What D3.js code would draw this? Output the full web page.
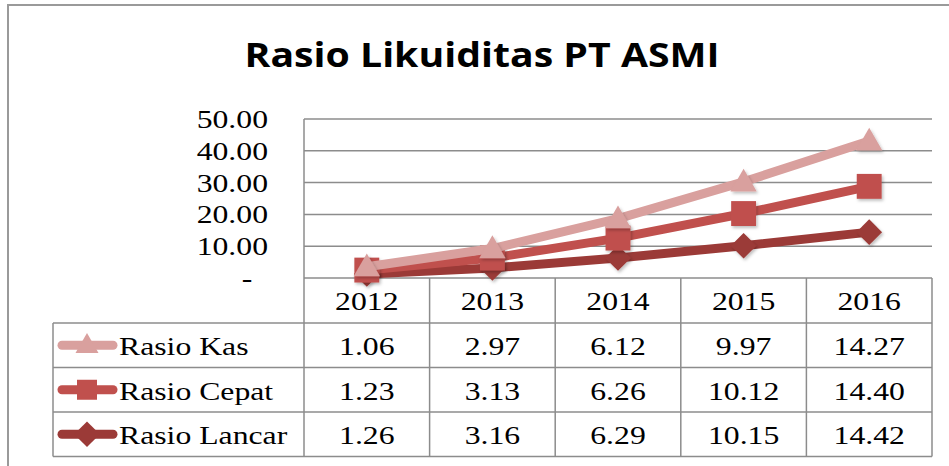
<!DOCTYPE html>
<html>
<head>
<meta charset="utf-8">
<script src="https://cdn.jsdelivr.net/npm/d3@7"></script>
<style>
	body { margin: 0; background: #fff; }
	svg { display: block; }
</style>
</head>
<body>
<div id="diagram"></div>
<script>
const years = ["2012", "2013", "2014", "2015", "2016"];
const seriesNames = ["Rasio Kas", "Rasio Cepat", "Rasio Lancar"];
const rasioKas = [1.06, 2.97, 6.12, 9.97, 14.27];
const rasioCepat = [1.23, 3.13, 6.26, 10.12, 14.40];
const rasioLancar = [1.26, 3.16, 6.29, 10.15, 14.42];
const yTicks = [0, 10, 20, 30, 40, 50];

const colors = {
	"Rasio Kas": "#d9a09e",
	"Rasio Cepat": "#c0504d",
	"Rasio Lancar": "#9b3a37"
};

// diamond = square turned 45 degrees
const diamond = {
	draw(context, size) {
		const r = Math.sqrt(size / 2);
		context.moveTo(0, -r);
		context.lineTo(r, 0);
		context.lineTo(0, r);
		context.lineTo(-r, 0);
		context.closePath();
	}
};
const shapes = {
	"Rasio Kas": d3.symbolTriangle,
	"Rasio Cepat": d3.symbolSquare,
	"Rasio Lancar": diamond
};

const width = 949;
const height = 466;
const gridColor = "#8c8c8c";
const serif = "'Liberation Serif', 'Times New Roman', serif";
const stretch = 1.22; // the picture text is a bit wide

// one row per year, used for stacking (stacked line chart)
const rows = years.map((y, i) => ({
	year: y,
	"Rasio Kas": rasioKas[i],
	"Rasio Cepat": rasioCepat[i],
	"Rasio Lancar": rasioLancar[i]
}));
const valuesBySeries = {
	"Rasio Kas": rasioKas,
	"Rasio Cepat": rasioCepat,
	"Rasio Lancar": rasioLancar
};

const stacked = d3.stack()
	.keys(["Rasio Lancar", "Rasio Cepat", "Rasio Kas"])(rows);

const plotLeft = 304, plotRight = 932, plotTop = 119, plotBottom = 278;
const tableLeft = 53;
const headerBottom = 323;
const rowH = 44.5;

const x = d3.scaleBand()
	.domain(years)
	.range([plotLeft, plotRight]);

const y = d3.scaleLinear()
	.domain([0, 50])
	.range([plotBottom, plotTop]);

const svg = d3.select("#diagram")
	.append("svg")
	.attr("width", width)
	.attr("height", height);

function serifText(sel, tx, ty) {
	return sel
		.attr("transform", (d, i) => `translate(${tx(d, i)},${ty(d, i)}) scale(${stretch},1)`)
		.attr("font-family", serif)
		.attr("font-size", "26px");
}

const defs = svg.append("defs");
defs.append("filter")
	.attr("id", "shadow")
	.attr("x", "-50%").attr("y", "-50%")
	.attr("width", "200%").attr("height", "200%")
	.append("feDropShadow")
	.attr("dx", 1.5).attr("dy", 2)
	.attr("stdDeviation", 1.5)
	.attr("flood-color", "#000")
	.attr("flood-opacity", 0.25);

// outer chart border
svg.append("rect")
	.attr("x", 8).attr("y", 5)
	.attr("width", 980).attr("height", 500)
	.attr("fill", "none")
	.attr("stroke", "#9a9a9a")
	.attr("stroke-width", 2);

// title
svg.append("text")
	.attr("x", 482)
	.attr("y", 67)
	.attr("text-anchor", "middle")
	.attr("font-family", "'Open Sans', sans-serif")
	.attr("font-weight", "bold")
	.attr("font-size", "34px")
	.attr("textLength", 475)
	.attr("lengthAdjust", "spacingAndGlyphs")
	.text("Rasio Likuiditas PT ASMI");

// gridlines
svg.selectAll("line.grid")
	.data(yTicks.filter(d => d > 0))
	.enter()
	.append("line")
	.attr("class", "grid")
	.attr("x1", plotLeft).attr("x2", plotRight)
	.attr("y1", d => y(d)).attr("y2", d => y(d))
	.attr("stroke", gridColor)
	.attr("stroke-width", 1.5);

// y labels
svg.selectAll("text.ylab")
	.data(yTicks)
	.enter()
	.append("text")
	.attr("class", "ylab")
	.call(serifText, d => d === 0 ? 247 : 268, d => y(d) + 9)
	.attr("text-anchor", d => d === 0 ? "middle" : "end")
	.text(d => d === 0 ? "-" : d3.format(".2f")(d));

// table lines
const tableBottom = headerBottom + rowH * seriesNames.length;
const tbl = svg.append("g")
	.attr("stroke", gridColor)
	.attr("stroke-width", 1.5);

tbl.append("line")
	.attr("x1", plotLeft).attr("x2", plotRight)
	.attr("y1", plotBottom).attr("y2", plotBottom);
tbl.selectAll("line.hrow")
	.data(d3.range(seriesNames.length + 1))
	.enter()
	.append("line")
	.attr("x1", tableLeft).attr("x2", plotRight)
	.attr("y1", i => headerBottom + i * rowH)
	.attr("y2", i => headerBottom + i * rowH);
tbl.append("line")
	.attr("x1", plotLeft).attr("x2", plotLeft)
	.attr("y1", plotTop).attr("y2", tableBottom);
tbl.append("line")
	.attr("x1", tableLeft).attr("x2", tableLeft)
	.attr("y1", headerBottom).attr("y2", tableBottom);
tbl.selectAll("line.vcol")
	.data(years.slice(1).concat(["end"]))
	.enter()
	.append("line")
	.attr("x1", d => d === "end" ? plotRight : x(d))
	.attr("x2", d => d === "end" ? plotRight : x(d))
	.attr("y1", plotBottom).attr("y2", tableBottom);

// year header
svg.selectAll("text.year")
	.data(years)
	.enter()
	.append("text")
	.attr("class", "year")
	.call(serifText, d => x(d) + x.bandwidth() / 2, () => 310)
	.attr("text-anchor", "middle")
	.text(d => d);

// table rows
seriesNames.forEach(function(name, r) {
	const top = headerBottom + r * rowH;
	const cy = top + rowH / 2;
	const g = svg.append("g");

	g.append("line")
		.attr("x1", 62).attr("x2", 113)
		.attr("y1", cy).attr("y2", cy)
		.attr("stroke", colors[name])
		.attr("stroke-width", 9)
		.attr("stroke-linecap", "round");
	g.append("path")
		.attr("d", d3.symbol().type(shapes[name]).size(name === "Rasio Kas" ? 230 : (name === "Rasio Cepat" ? 400 : 330))())
		.attr("transform", `translate(87,${cy + (name === "Rasio Kas" ? 1 : 0)})`)
		.attr("fill", colors[name]);
	g.append("text")
		.call(serifText, () => 119, () => top + 32)
		.text(name);

	g.selectAll("text.val")
		.data(valuesBySeries[name])
		.enter()
		.append("text")
		.call(serifText, (d, i) => x(years[i]) + x.bandwidth() / 2, () => top + 32)
		.attr("text-anchor", "middle")
		.text(d => d3.format(".2f")(d));
});

// stacked lines
const cx = d => x(d.data.year) + x.bandwidth() / 2;
const line = d3.line()
	.x(cx)
	.y(d => y(d[1]));

const layers = svg.selectAll("g.layer")
	.data(stacked)
	.enter()
	.append("g")
	.attr("class", "layer");

layers.append("path")
	.attr("d", d => line(d))
	.attr("fill", "none")
	.attr("stroke", d => colors[d.key])
	.attr("stroke-width", 9)
	.attr("stroke-linejoin", "round");

layers.each(function(s) {
	d3.select(this).selectAll("path.marker")
		.data(s)
		.enter()
		.append("path")
		.attr("class", "marker")
		.attr("d", d3.symbol().type(shapes[s.key]).size(s.key === "Rasio Kas" ? 300 : (s.key === "Rasio Cepat" ? 620 : 330))())
		.attr("transform", d => `translate(${cx(d)},${y(d[1]) + (s.key === "Rasio Kas" ? 2 : 0)})`)
		.attr("fill", colors[s.key])
		.attr("filter", "url(#shadow)");
});
</script>
</body>
</html>
